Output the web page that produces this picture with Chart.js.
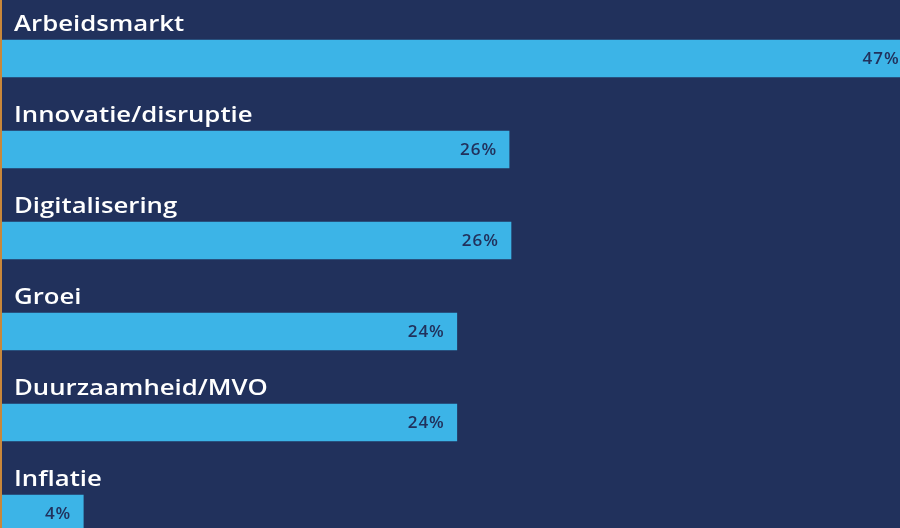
<!DOCTYPE html>
<html>
<head>
<meta charset="utf-8">
<script src="https://cdn.jsdelivr.net/npm/chart.js@4/dist/chart.umd.min.js"></script>
<style>
  html, body { margin: 0; padding: 0; background: #21315c; overflow: hidden; }
  #wrap { width: 898px; height: 528px; overflow: hidden; border-left: 2px solid #c8873a; }
  canvas { display: block; }
</style>
</head>
<body>
<div id="wrap"><canvas id="chart" width="898" height="560"></canvas></div>
<script>
// Thema's (categorieën) en aandeel in procenten
const categories = ["Arbeidsmarkt", "Innovatie/disruptie", "Digitalisering", "Groei", "Duurzaamheid/MVO", "Inflatie"];
const shares = [47, 26.2, 26.3, 23.5, 23.5, 4.2];
const shareLabels = ["47%", "26%", "26%", "24%", "24%", "4%"];

const navy = "#21315c";
const barBlue = "#3cb4e7";

// Draw the category name above each bar and the value inside its right end
const barLabels = {
  id: "barLabels",
  afterDatasetsDraw(chart) {
    const ctx = chart.ctx;
    const meta = chart.getDatasetMeta(0);
    meta.data.forEach((bar, i) => {
      const top = bar.y - bar.height / 2;
      // wide geometric look: stretch the label a bit horizontally
      ctx.save();
      ctx.translate(12, top - 9);
      ctx.scale(1.17, 1);
      ctx.fillStyle = "#ffffff";
      ctx.font = "600 22px 'Open Sans', sans-serif";
      ctx.textAlign = "left";
      ctx.textBaseline = "alphabetic";
      ctx.fillText(categories[i], 0, 0);
      ctx.restore();

      ctx.save();
      ctx.fillStyle = navy;
      ctx.font = "600 17px 'Open Sans', sans-serif";
      ctx.letterSpacing = "1px";
      ctx.textAlign = "right";
      ctx.textBaseline = "middle";
      ctx.fillText(shareLabels[i], bar.x - 12, bar.y + 1);
      ctx.restore();
    });
  }
};

const ctx = document.getElementById("chart").getContext("2d");
new Chart(ctx, {
  type: "bar",
  data: {
    labels: categories,
    datasets: [{
      data: shares,
      backgroundColor: barBlue,
      borderWidth: 0,
      barThickness: 37
    }]
  },
  options: {
    indexAxis: "y",
    responsive: false,
    animation: false,
    layout: { padding: { top: 13, bottom: 1, left: 0, right: 0 } },
    plugins: {
      legend: { display: false },
      tooltip: { enabled: false }
    },
    scales: {
      x: { display: false, min: 0, max: 46.4 },
      y: { display: false }
    }
  },
  plugins: [barLabels]
});
</script>
</body>
</html>
